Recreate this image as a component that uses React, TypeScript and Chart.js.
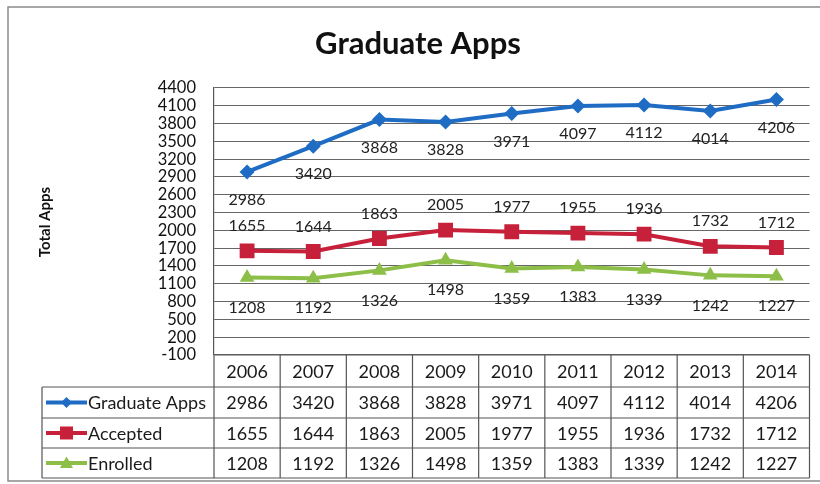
import React, { useEffect, useRef } from "react";
import { Chart, registerables } from "chart.js";

Chart.register(...registerables);

const years = ["2006", "2007", "2008", "2009", "2010", "2011", "2012", "2013", "2014"];
const graduateApps = [2986, 3420, 3868, 3828, 3971, 4097, 4112, 4014, 4206];
const accepted = [1655, 1644, 1863, 2005, 1977, 1955, 1936, 1732, 1712];
const enrolled = [1208, 1192, 1326, 1498, 1359, 1383, 1339, 1242, 1227];
const seriesNames = ["Graduate Apps", "Accepted", "Enrolled"];
const seriesColors = ["#1f6cc4", "#c6203a", "#8dbf48"];
const seriesStyles = ["rectRot", "rect", "triangle"];
const labelOffsets = [28, -25, 30];
const yMin = -100;
const yMax = 4400;
const yStep = 300;

const FONT = "Lato, 'Open Sans', sans-serif";

function drawMarker(ctx: CanvasRenderingContext2D, style: string, x: number, y: number, r: number) {
  ctx.beginPath();
  if (style === "rectRot") {
    ctx.moveTo(x - r, y);
    ctx.lineTo(x, y - r);
    ctx.lineTo(x + r, y);
    ctx.lineTo(x, y + r);
  } else if (style === "rect") {
    ctx.rect(x - r, y - r, 2 * r, 2 * r);
  } else {
    ctx.moveTo(x, y - r);
    ctx.lineTo(x + r, y + r * 0.75);
    ctx.lineTo(x - r, y + r * 0.75);
  }
  ctx.closePath();
  ctx.fill();
}

const tablePlugin = {
  id: "tablePlugin",
  afterDraw(chart: any) {
    const ctx: CanvasRenderingContext2D = chart.ctx;
    const area = chart.chartArea;
    const xs = chart.scales.x;
    const allData = [graduateApps, accepted, enrolled];
    ctx.save();

    // outer border
    ctx.strokeStyle = "#8a8a8a";
    ctx.lineWidth = 1.5;
    ctx.strokeRect(8, 7, 830, 474);

    // title
    ctx.fillStyle = "#111";
    ctx.font = `bold 31px ${FONT}`;
    ctx.textAlign = "center";
    ctx.textBaseline = "middle";
    ctx.fillText("Graduate Apps", 418, 44);

    // y axis title
    ctx.save();
    ctx.translate(45, 222);
    ctx.rotate(-Math.PI / 2);
    ctx.font = `bold 15px ${FONT}`;
    ctx.fillText("Total Apps", 0, 0);
    ctx.restore();

    // data labels
    ctx.font = `16px ${FONT}`;
    ctx.fillStyle = "#222";
    chart.data.datasets.forEach((ds: any, di: number) => {
      const meta = chart.getDatasetMeta(di);
      meta.data.forEach((pt: any, i: number) => {
        ctx.fillText(String(ds.data[i]), pt.x, pt.y + labelOffsets[di]);
      });
    });

    // table
    const top = area.bottom;
    const rowH = [32, 31, 30, 30];
    const rowsY = [top];
    rowH.forEach((h, i) => rowsY.push(rowsY[i] + h));
    const left = area.left;
    const right = area.right;
    const legendLeft = 42;
    const colW = (right - left) / years.length;

    ctx.strokeStyle = "#555";
    ctx.lineWidth = 1.2;
    ctx.beginPath();
    ctx.moveTo(left, rowsY[0]);
    ctx.lineTo(right, rowsY[0]);
    for (let r = 1; r < rowsY.length; r++) {
      ctx.moveTo(legendLeft, rowsY[r]);
      ctx.lineTo(right, rowsY[r]);
    }
    ctx.moveTo(legendLeft, rowsY[1]);
    ctx.lineTo(legendLeft, rowsY[4]);
    for (let c = 0; c <= years.length; c++) {
      const x = left + c * colW;
      ctx.moveTo(x, rowsY[0]);
      ctx.lineTo(x, rowsY[4]);
    }
    ctx.stroke();

    ctx.font = `18px ${FONT}`;
    ctx.fillStyle = "#1a1a1a";
    ctx.textAlign = "center";
    years.forEach((y, i) => {
      const cx = xs.getPixelForValue(i);
      ctx.fillText(y, cx, (rowsY[0] + rowsY[1]) / 2 + 1);
      allData.forEach((arr, si) => {
        ctx.fillText(String(arr[i]), cx, (rowsY[si + 1] + rowsY[si + 2]) / 2 + 1);
      });
    });

    seriesNames.forEach((name, si) => {
      const cy = (rowsY[si + 1] + rowsY[si + 2]) / 2;
      ctx.strokeStyle = seriesColors[si];
      ctx.fillStyle = seriesColors[si];
      ctx.lineWidth = 4;
      ctx.beginPath();
      ctx.moveTo(46, cy);
      ctx.lineTo(87, cy);
      ctx.stroke();
      const r = si === 0 ? 5.5 : 6.5;
      drawMarker(ctx, seriesStyles[si], 66.5, cy, r);
      ctx.fillStyle = "#1a1a1a";
      ctx.textAlign = "left";
      ctx.font = `18px ${FONT}`;
      ctx.fillText(name, 88, cy + 1);
    });

    ctx.restore();
  },
};

export default function App() {
  const ref = useRef<HTMLCanvasElement>(null);
  useEffect(() => {
    document.body.style.margin = "0";
    document.body.style.background = "#fff";
    const canvas = ref.current!;
    const allData = [graduateApps, accepted, enrolled];
    const chart = new Chart(canvas, {
      type: "line",
      data: {
        labels: years,
        datasets: seriesNames.map((name, i) => ({
          label: name,
          data: allData[i],
          borderColor: seriesColors[i],
          backgroundColor: seriesColors[i],
          borderWidth: 4,
          pointStyle: seriesStyles[i] as any,
          pointRadius: i === 0 ? 7.5 : i === 1 ? 10.5 : 8.5,
          pointBorderWidth: 0,
          tension: 0,
        })),
      },
      options: {
        animation: false,
        responsive: false,
        layout: { padding: { top: 88, bottom: 129, right: 10, left: 0 } },
        plugins: {
          legend: { display: false },
          title: { display: false },
          tooltip: { enabled: false },
        },
        scales: {
          x: { type: "category", display: false, offset: true },
          y: {
            min: yMin,
            max: yMax,
            afterFit: (scale: any) => {
              scale.width = 214;
            },
            ticks: {
              stepSize: yStep,
              autoSkip: false,
              padding: 18,
              color: "#111",
              font: { family: FONT, size: 16.5, lineHeight: 1 },
              callback: (v: any) => String(v),
            },
            grid: { color: "#666", lineWidth: 1.1, drawTicks: false },
            border: { display: true, color: "#555", width: 1.2 },
          },
        },
      },
      plugins: [tablePlugin],
    });
    return () => chart.destroy();
  }, []);
  return (
    <div style={{ position: "absolute", left: 0, top: 0, width: 820, height: 484, background: "#fff" }}>
      <canvas ref={ref} width={820} height={484} style={{ width: 820, height: 484 }} />
    </div>
  );
}
